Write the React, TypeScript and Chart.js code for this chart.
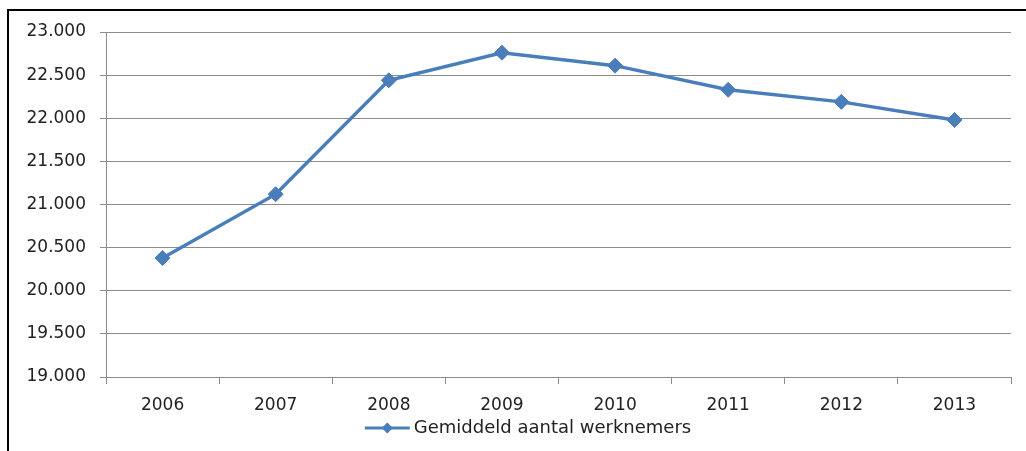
import React, { useEffect, useRef } from "react";
import { Chart, registerables } from "chart.js";

Chart.register(...registerables);

const years = ["2006", "2007", "2008", "2009", "2010", "2011", "2012", "2013"];
const werknemers = [20380, 21120, 22440, 22760, 22610, 22330, 22190, 21980];
const seriesLabel = "Gemiddeld aantal werknemers";
const yMin = 19000;
const yMax = 23000;
const yStep = 500;

const lineColor = "#4a7ebb";
const gridColor = "#8c8c8c";
const textColor = "#222222";
const fontFamily = "'DejaVu Sans', sans-serif";

const fmt = (v: number) =>
  Math.round(v)
    .toString()
    .replace(/\B(?=(\d{3})+(?!\d))/g, ".");

// Custom legend: line + diamond marker + label, drawn below the x axis
const lineLegend = {
  id: "lineLegend",
  afterDraw(chart: any) {
    const ctx = chart.ctx;
    const ds = chart.data.datasets[0];
    const text = ds.label as string;
    const lineLen = 45;
    const gap = 4;
    ctx.save();
    ctx.font = `18px ${fontFamily}`;
    const tw = ctx.measureText(text).width;
    const total = lineLen + gap + tw;
    const cx = chart.width / 2 + 15;
    const cy = chart.chartArea.bottom + 51;
    const x0 = cx - total / 2;
    ctx.strokeStyle = lineColor;
    ctx.lineWidth = 3;
    ctx.beginPath();
    ctx.moveTo(x0, cy);
    ctx.lineTo(x0 + lineLen, cy);
    ctx.stroke();
    const mx = x0 + lineLen / 2;
    const r = 5.5;
    ctx.fillStyle = lineColor;
    ctx.beginPath();
    ctx.moveTo(mx, cy - r);
    ctx.lineTo(mx + r, cy);
    ctx.lineTo(mx, cy + r);
    ctx.lineTo(mx - r, cy);
    ctx.closePath();
    ctx.fill();
    ctx.fillStyle = textColor;
    ctx.textBaseline = "middle";
    ctx.textAlign = "left";
    ctx.fillText(text, x0 + lineLen + gap, cy);
    ctx.restore();
  },
};

export default function App() {
  const ref = useRef<HTMLCanvasElement | null>(null);

  useEffect(() => {
    if (!ref.current) return;
    const chart = new Chart(ref.current, {
      type: "line",
      data: {
        labels: years,
        datasets: [
          {
            label: seriesLabel,
            data: werknemers,
            borderColor: lineColor,
            backgroundColor: lineColor,
            borderWidth: 3.5,
            tension: 0,
            pointStyle: "rectRot",
            pointRadius: 7.5,
            pointBorderWidth: 1,
            pointBackgroundColor: lineColor,
            pointBorderColor: lineColor,
          },
        ],
      },
      options: {
        animation: false,
        responsive: false,
        maintainAspectRatio: false,
        layout: { padding: { left: 0, right: 15, top: 32, bottom: 34 } },
        plugins: {
          tooltip: { enabled: false },
          legend: { display: false },
        },
        scales: {
          x: {
            offset: true,
            grid: {
              offset: true,
              drawOnChartArea: false,
              drawTicks: true,
              tickLength: 7,
              color: gridColor,
            },
            border: { color: gridColor, width: 1 },
            ticks: {
              color: textColor,
              font: { family: fontFamily, size: 17 },
              padding: 11,
              maxRotation: 0,
            },
            afterFit: (s: any) => {
              s.height = 40;
            },
          },
          y: {
            min: yMin,
            max: yMax,
            grid: { color: gridColor, tickLength: 6 },
            border: { color: gridColor, width: 1 },
            ticks: {
              stepSize: yStep,
              color: textColor,
              font: { family: fontFamily, size: 17 },
              padding: 14,
              callback: (v: any) => fmt(Number(v)),
            },
            afterFit: (s: any) => {
              s.width = 106;
            },
          },
        },
      },
      plugins: [lineLegend],
    });
    return () => chart.destroy();
  }, []);

  return (
    <div
      style={{
        position: "fixed",
        left: 0,
        top: 0,
        width: 1026,
        height: 451,
        overflow: "hidden",
        background: "#ffffff",
      }}
    >
      <div
        style={{
          position: "absolute",
          left: 7,
          top: 9,
          width: 1100,
          height: 500,
          borderTop: "2px solid #000",
          borderLeft: "2px solid #000",
        }}
      />
      <canvas
        ref={ref}
        width={1026}
        height={451}
        style={{ position: "absolute", left: 0, top: 0, width: 1026, height: 451 }}
      />
    </div>
  );
}
